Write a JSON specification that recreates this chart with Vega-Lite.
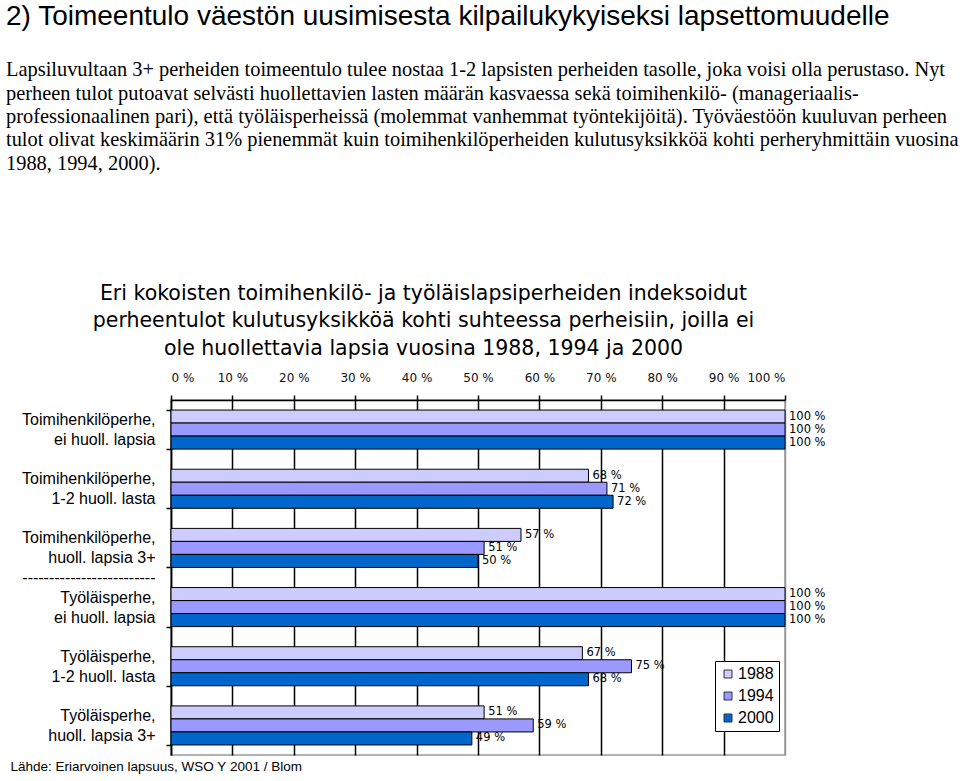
{
  "$schema": "https://vega.github.io/schema/vega-lite/v6.json",
  "autosize": "none",
  "width": 614,
  "height": 355,
  "padding": {"left": 171, "top": 400, "right": 175, "bottom": 26},
  "background": "white",
  "title": {
    "text": "2) Toimeentulo väestön uusimisesta kilpailukykyiseksi lapsettomuudelle",
    "subtitle": [
      "Lapsiluvultaan 3+ perheiden toimeentulo tulee nostaa 1-2 lapsisten perheiden tasolle, joka voisi olla perustaso. Nyt",
      "perheen tulot putoavat selvästi huollettavien lasten määrän kasvaessa sekä toimihenkilö- (manageriaalis-",
      "professionaalinen pari), että työläisperheissä (molemmat vanhemmat työntekijöitä).  Työväestöön kuuluvan perheen",
      "tulot olivat keskimäärin 31% pienemmät kuin toimihenkilöperheiden kulutusyksikköä kohti perheryhmittäin vuosina",
      "1988, 1994, 2000)."
    ],
    "anchor": "start",
    "frame": "group",
    "dx": -165,
    "font": "Liberation Sans",
    "fontSize": 28,
    "fontWeight": "normal",
    "color": "#000",
    "subtitleFont": "Liberation Serif",
    "subtitleFontSize": 20.4,
    "subtitleColor": "#000",
    "subtitleLineHeight": 23.3,
    "subtitlePadding": 29,
    "offset": 109
  },
  "data": {
    "values": [
      {"group": "Toimihenkilöperhe,|ei huoll. lapsia", "year": "1988", "value": 100},
      {"group": "Toimihenkilöperhe,|ei huoll. lapsia", "year": "1994", "value": 100},
      {"group": "Toimihenkilöperhe,|ei huoll. lapsia", "year": "2000", "value": 100},
      {"group": "Toimihenkilöperhe,|1-2 huoll. lasta", "year": "1988", "value": 68},
      {"group": "Toimihenkilöperhe,|1-2 huoll. lasta", "year": "1994", "value": 71},
      {"group": "Toimihenkilöperhe,|1-2 huoll. lasta", "year": "2000", "value": 72},
      {"group": "Toimihenkilöperhe,|huoll. lapsia 3+", "year": "1988", "value": 57},
      {"group": "Toimihenkilöperhe,|huoll. lapsia 3+", "year": "1994", "value": 51},
      {"group": "Toimihenkilöperhe,|huoll. lapsia 3+", "year": "2000", "value": 50},
      {"group": "Työläisperhe,|ei huoll. lapsia", "year": "1988", "value": 100},
      {"group": "Työläisperhe,|ei huoll. lapsia", "year": "1994", "value": 100},
      {"group": "Työläisperhe,|ei huoll. lapsia", "year": "2000", "value": 100},
      {"group": "Työläisperhe,|1-2 huoll. lasta", "year": "1988", "value": 67},
      {"group": "Työläisperhe,|1-2 huoll. lasta", "year": "1994", "value": 75},
      {"group": "Työläisperhe,|1-2 huoll. lasta", "year": "2000", "value": 68},
      {"group": "Työläisperhe,|huoll. lapsia 3+", "year": "1988", "value": 51},
      {"group": "Työläisperhe,|huoll. lapsia 3+", "year": "1994", "value": 59},
      {"group": "Työläisperhe,|huoll. lapsia 3+", "year": "2000", "value": 49}
    ]
  },
  "transform": [{"calculate": "datum.value + ' %'", "as": "label"}],
  "encoding": {
    "y": {
      "field": "group",
      "type": "nominal",
      "sort": null,
      "scale": {"paddingInner": 0.34, "paddingOuter": 0.17},
      "axis": {
        "title": null,
        "labelExpr": "datum.label == 'Toimihenkilöperhe,|huoll. lapsia 3+' ? ['Toimihenkilöperhe,', 'huoll. lapsia 3+', '-------------------------'] : split(datum.label, '|')",
        "labelAlign": "right",
        "labelBaseline": "middle",
        "labelPadding": 11,
        "labelOffset": -10,
        "labelFont": "Liberation Sans",
        "labelFontSize": 16,
        "labelLineHeight": 20,
        "labelColor": "#000",
        "labelLimit": 0,
        "tickBand": "extent",
        "tickSize": 5,
        "tickColor": "#000",
        "tickWidth": 1.5,
        "domainColor": "#000",
        "domainWidth": 1.5,
        "grid": false
      }
    },
    "yOffset": {"field": "year", "type": "nominal", "sort": ["1988", "1994", "2000"], "scale": {"paddingInner": 0, "paddingOuter": 0}}
  },
  "layer": [
    {
      "mark": {"type": "bar", "stroke": "#000", "strokeWidth": 1},
      "encoding": {
        "x": {
          "field": "value",
          "type": "quantitative",
          "scale": {"domain": [0, 100]},
          "axis": {
            "orient": "top",
            "values": [0, 10, 20, 30, 40, 50, 60, 70, 80, 90, 100],
            "labelExpr": "datum.value + ' %'",
            "labelFont": "DejaVu Sans",
            "labelFontSize": 12,
            "labelColor": "#111",
            "labelPadding": 11,
            "tickSize": 5,
            "tickColor": "#000",
            "tickWidth": 1.5,
            "domainColor": "#000",
            "domainWidth": 1.5,
            "grid": true,
            "gridColor": {"condition": {"test": "datum.value == 100", "value": "#999"}, "value": "#000"},
            "gridWidth": 1.5,
            "title": [
              "Eri kokoisten toimihenkilö- ja työläislapsiperheiden indeksoidut",
              "perheentulot kulutusyksikköä kohti suhteessa perheisiin, joilla ei",
              "ole huollettavia lapsia vuosina 1988, 1994 ja 2000"
            ],
            "titleFont": "DejaVu Sans",
            "titleFontSize": 20.5,
            "titleFontWeight": "normal",
            "titleColor": "#000",
            "titleLineHeight": 27.5,
            "titleX": 252,
            "titleY": -117,
            "titleAlign": "center",
            "titleBaseline": "top"
          }
        },
        "color": {
          "field": "year",
          "type": "nominal",
          "scale": {"domain": ["1988", "1994", "2000"], "range": ["#CCCCFF", "#9999FF", "#0066CC"]},
          "legend": {
            "orient": "none",
            "legendX": 544,
            "legendY": 261,
            "title": null,
            "symbolType": "square",
            "symbolSize": 64,
            "symbolStrokeColor": "#333",
            "symbolStrokeWidth": 1,
            "labelFont": "Liberation Sans",
            "labelFontSize": 16,
            "labelColor": "#000",
            "labelOffset": 2,
            "strokeColor": "#000",
            "fillColor": "#fff",
            "padding": 5,
            "rowPadding": 6
          }
        }
      }
    },
    {
      "mark": {"type": "text", "align": "left", "baseline": "middle", "dx": 4, "font": "DejaVu Sans", "fontSize": 11.5, "color": "#000"},
      "encoding": {
        "x": {
          "field": "value",
          "type": "quantitative",
          "axis": {
            "orient": "bottom",
            "labels": false,
            "ticks": false,
            "domain": false,
            "grid": false,
            "title": "Lähde: Eriarvoinen lapsuus, WSO Y 2001 / Blom",
            "titleX": -161,
            "titleY": 11,
            "titleAlign": "left",
            "titleBaseline": "middle",
            "titleFont": "Liberation Sans",
            "titleFontSize": 13.5,
            "titleFontWeight": "normal",
            "titleColor": "#000"
          }
        },
        "text": {"field": "label"}
      }
    }
  ],
  "resolve": {"axis": {"x": "independent"}},
  "config": {"view": {"stroke": "#999", "strokeWidth": 1.5}}
}
